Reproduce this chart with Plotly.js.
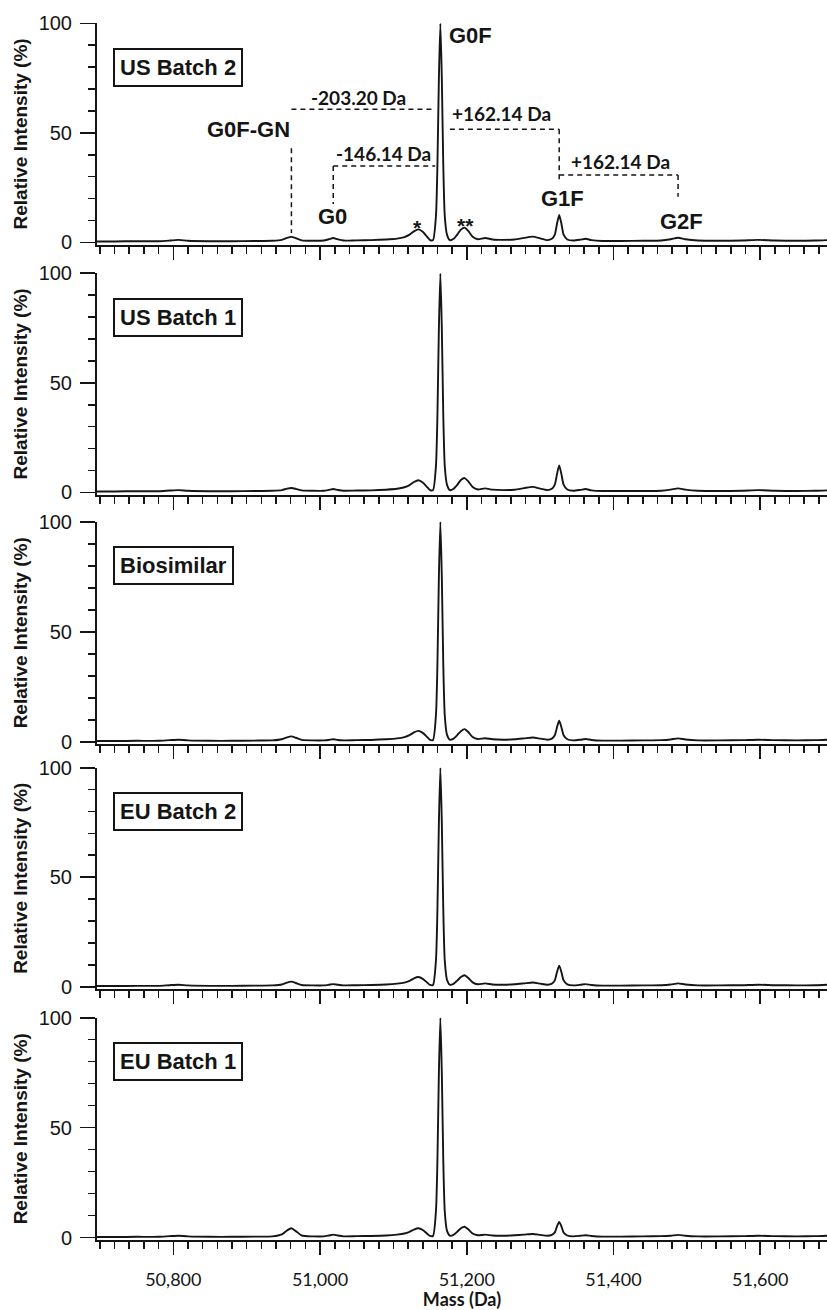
<!DOCTYPE html>
<html>
<head>
<meta charset="utf-8">
<script src="https://cdn.plot.ly/plotly-3.0.1.min.js"></script>
<style>html,body{margin:0;padding:0;background:#fff;}#chart{width:827px;height:1310px;}</style>
</head>
<body>
<div id="chart"></div>
<script>
// ---------- data ----------
const mass = [
50696, 50720, 50750, 50780, 50795, 50807, 50820, 50850, 50880, 50910,
50935, 50948, 50955, 50961, 50967, 50975, 50990, 51005, 51012, 51018,
51024, 51032, 51050, 51070, 51090, 51105, 51115, 51122, 51128, 51134,
51140, 51146, 51150, 51154, 51158, 51160, 51162, 51164, 51166, 51168,
51170, 51173, 51177, 51182, 51187, 51192, 51197, 51202, 51208, 51215,
51225, 51235, 51250, 51265, 51278, 51290, 51300, 51310, 51316, 51320,
51323, 51326, 51329, 51332, 51337, 51345, 51355, 51362, 51370, 51385,
51410, 51440, 51465, 51478, 51488, 51498, 51515, 51545, 51575, 51597,
51620, 51650, 51675, 51691];

const usBatch2 = [
0.4,0.4,0.5,0.5,0.8,1.1,0.7,0.5,0.5,0.6,
0.7,1.1,2.0,2.5,1.9,0.9,0.7,0.8,1.4,2.0,
1.4,0.8,0.9,1.0,1.3,1.7,2.4,3.5,5.0,5.9,
4.8,2.5,1.0,1.0,12,35,75,100,75,35,
12,3.5,1.0,1.6,3.5,5.8,6.7,5.2,2.5,1.4,
2.0,1.3,1.1,1.3,2.0,2.6,1.8,1.0,1.6,3.5,
8.5,12.5,8.5,3.5,1.3,0.8,1.2,1.6,1.0,0.6,
0.6,0.7,0.8,1.4,2.1,1.4,0.8,0.7,0.8,1.1,
0.8,0.7,0.8,1.0];

const usBatch1 = [
0.4,0.4,0.5,0.5,0.8,1.0,0.7,0.5,0.5,0.6,
0.7,1.0,1.7,2.0,1.6,0.9,0.7,0.7,1.1,1.5,
1.1,0.7,0.8,0.9,1.2,1.6,2.3,3.3,4.7,5.5,
4.5,2.4,1.0,1.0,12,35,75,100,75,35,
12,3.5,1.0,1.6,3.4,5.6,6.5,5.0,2.4,1.3,
1.8,1.2,1.0,1.2,1.9,2.5,1.7,1.0,1.6,3.5,
8.3,12.3,8.3,3.5,1.3,0.7,1.1,1.5,0.9,0.6,
0.6,0.6,0.7,1.2,1.8,1.2,0.7,0.6,0.7,1.0,
0.7,0.6,0.7,0.9];

const biosimilar = [
0.3,0.3,0.4,0.4,0.7,0.9,0.6,0.4,0.4,0.5,
0.6,1.1,2.0,2.4,1.8,0.8,0.6,0.6,0.8,1.1,
0.8,0.6,0.7,0.8,1.1,1.5,2.1,3.0,4.2,4.9,
4.0,2.1,0.8,0.8,12,35,75,100,75,35,
12,3.2,0.9,1.4,3.0,4.8,5.7,4.4,2.1,1.2,
1.6,1.1,0.9,1.1,1.5,1.9,1.4,0.9,1.4,2.9,
6.6,9.5,6.6,2.9,1.1,0.6,0.9,1.2,0.8,0.5,
0.5,0.6,0.7,1.0,1.5,1.0,0.6,0.6,0.7,0.9,
0.7,0.6,0.7,0.9];

const euBatch2 = [
0.3,0.3,0.4,0.4,0.7,0.9,0.6,0.4,0.4,0.5,
0.6,1.0,1.9,2.3,1.7,0.8,0.6,0.6,0.9,1.2,
0.9,0.6,0.7,0.8,1.0,1.4,1.9,2.7,3.8,4.4,
3.6,1.9,0.8,0.8,12,35,75,100,75,35,
12,3.2,0.9,1.3,2.8,4.4,5.2,4.0,2.0,1.1,
1.5,1.0,0.9,1.1,1.5,1.9,1.4,0.9,1.4,2.9,
6.7,9.6,6.7,2.9,1.1,0.6,0.9,1.2,0.8,0.5,
0.5,0.6,0.7,1.0,1.5,1.0,0.6,0.6,0.7,0.9,
0.7,0.6,0.7,0.9];

const euBatch1 = [
0.3,0.3,0.4,0.4,0.7,0.9,0.6,0.4,0.4,0.5,
0.6,1.5,3.3,4.3,3.0,1.0,0.6,0.6,1.0,1.4,
1.0,0.6,0.7,0.8,1.0,1.4,1.9,2.7,3.7,4.3,
3.5,1.8,0.8,0.8,12,35,75,100,75,35,
12,3.2,0.9,1.3,2.7,4.3,5.0,3.8,1.9,1.1,
1.4,1.0,0.9,1.1,1.4,1.7,1.3,0.9,1.3,2.4,
5.2,7.2,5.2,2.4,1.0,0.6,0.9,1.1,0.8,0.5,
0.5,0.6,0.7,0.9,1.3,0.9,0.6,0.6,0.7,0.9,
0.7,0.6,0.7,0.9];

const panelNames = ["US Batch 2", "US Batch 1", "Biosimilar", "EU Batch 2", "EU Batch 1"];
const panelSeries = [usBatch2, usBatch1, biosimilar, euBatch2, euBatch1];

// glycoform peak masses (Da) and mass-difference labels
const peakNames  = ["G0F-GN", "G0", "G0F", "G1F", "G2F"];
const peakMasses = [50961, 51018, 51164, 51326, 51488];
const starMasses = [51133, 51198];
const starLabels = ["*", "**"];
const deltaLabels = ["-203.20 Da", "-146.14 Da", "+162.14 Da", "+162.14 Da"];

const xTickVals = [50800, 51000, 51200, 51400, 51600];
const yTickVals = [0, 50, 100];

// ---------- layout ----------
const W = 827, H = 1310;
const panelPx = [[23.3,244.5],[273.3,494.5],[521.7,743.9],[767.7,988.9],[1017.7,1239.9]];
const XR = [50696, 51691];
const ink = "#151515";
const arial = "Liberation Sans, Arial, sans-serif";

const data = [];
const layout = {
  width: W, height: H,
  margin: {l: 97, r: 0, t: 0, b: 0, pad: 0},
  paper_bgcolor: "#fff", plot_bgcolor: "#fff",
  showlegend: false,
  font: {family: arial, color: ink},
  annotations: [], shapes: []
};

panelSeries.forEach((ys, i) => {
  const n = i === 0 ? "" : String(i + 1);
  const xa = "x" + n, ya = "y" + n;
  data.push({
    x: mass, y: ys, xaxis: xa, yaxis: ya,
    type: "scatter", mode: "lines",
    line: {color: ink, width: 1.9, shape: "spline", smoothing: 0.6},
    hoverinfo: "skip"
  });
  const last = i === panelSeries.length - 1;
  layout["xaxis" + n] = {
    domain: [0, 1], anchor: ya, range: XR, matches: i === 0 ? undefined : "x",
    showgrid: false, zeroline: false,
    showline: true, linecolor: ink, linewidth: 2,
    ticks: "outside", ticklen: 13, tickwidth: 1.6, tickcolor: ink,
    tickvals: xTickVals, tickformat: ",d",
    showticklabels: last,
    tickfont: {family: "Lato, Liberation Sans, sans-serif", size: 18, color: ink},
    ticklabelstandoff: 9,
    minor: {dtick: 20, tick0: 50700, ticks: "outside", ticklen: 7, tickwidth: 1.6, tickcolor: ink, showgrid: false},
    title: last ? {text: "<b>Mass (Da)</b>", font: {family: "Liberation Sans Narrow, Lato, sans-serif", size: 18, color: ink}, standoff: 3} : {text: ""},
    automargin: false, fixedrange: true
  };
  const [tp, bp] = panelPx[i];
  layout["yaxis" + n] = {
    domain: [1 - bp / H, 1 - tp / H], anchor: xa, range: [-1, 100],
    showgrid: false, zeroline: false,
    showline: true, linecolor: ink, linewidth: 2,
    ticks: "outside", ticklen: 15, tickwidth: 1.6, tickcolor: ink,
    tickvals: yTickVals,
    tickfont: {family: arial, size: 20, color: ink},
    ticklabelstandoff: 4,
    minor: {dtick: 10, tick0: 0, ticks: "outside", ticklen: 7, tickwidth: 1.6, tickcolor: ink, showgrid: false},
    title: {text: "<b>Relative Intensity (%)</b>", font: {family: arial, size: 19, color: ink}, standoff: 6},
    automargin: false, fixedrange: true
  };
  layout.annotations.push({
    xref: "paper", yref: ya, x: (113 - 97) / (W - 97), y: 100 - 24.5 / 2.2,
    xanchor: "left", yanchor: "top", showarrow: false,
    text: "<b>" + panelNames[i] + "</b>",
    font: {family: arial, size: 22, color: ink},
    bordercolor: ink, borderwidth: 2, borderpad: 5, bgcolor: "#fff"
  });
});

// ---------- glycoform annotations on the top panel ----------
const [mGN, mG0, mG0F, mG1F, mG2F] = peakMasses;
const peakFont = {family: arial, size: 22, color: ink};
function lab(x, y, t, font, xanchor) {
  layout.annotations.push({xref: "x", yref: "y", x: x, y: y, text: t, showarrow: false,
    xanchor: xanchor || "center", yanchor: "middle", font: font});
}
lab(mG0F + 9, 94.6, "<b>G0F</b>", peakFont, "left");
lab(mGN - 58, 51.7, "<b>G0F-GN</b>", peakFont);
lab(mG0 - 1, 12, "<b>G0</b>", peakFont);
lab(mG1F + 4, 20.2, "<b>G1F</b>", peakFont);
lab(mG2F + 4, 9.3, "<b>G2F</b>", peakFont);
const starFont = {family: arial, size: 21, color: ink};
lab(starMasses[0], 6.6, "<b>" + starLabels[0] + "</b>", starFont);
lab(starMasses[1], 7.8, "<b>" + starLabels[1] + "</b>", starFont);
const dFont = {family: "Lato, Open Sans, sans-serif", size: 19, color: ink};
lab(51053, 66.3, "<b>" + deltaLabels[0] + "</b>", dFont);
lab(51086, 40.5, "<b>" + deltaLabels[1] + "</b>", dFont);
lab(51247, 58.6, "<b>" + deltaLabels[2] + "</b>", dFont);
lab(51410, 37.1, "<b>" + deltaLabels[3] + "</b>", dFont);

const dash = {color: ink, width: 1.5, dash: "5px,4px"};
function seg(x0, y0, x1, y1) {
  layout.shapes.push({type: "line", xref: "x", yref: "y", x0: x0, y0: y0, x1: x1, y1: y1, line: dash});
}
seg(mGN, 60.7, mG0F - 7, 60.7);
seg(mGN, 43, mGN, 4.2);
seg(mG0, 34.8, mG0F - 7, 34.8);
seg(mG0, 34.8, mG0, 17.5);
seg(mG0F + 13, 51.6, mG1F, 51.6);
seg(mG1F, 51.6, mG1F, 28.4);
seg(mG1F, 30.7, mG2F, 30.7);
seg(mG2F, 30.7, mG2F, 20.8);

Plotly.newPlot("chart", data, layout, {staticPlot: true, displayModeBar: false});
</script>
</body>
</html>
